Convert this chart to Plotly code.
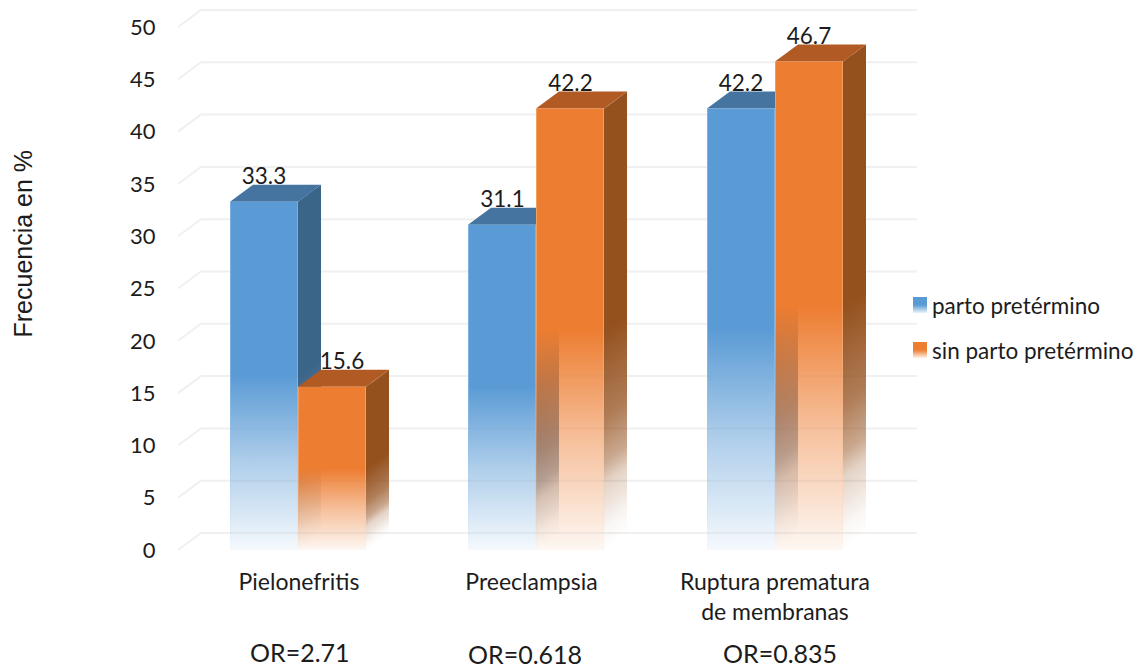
import plotly.graph_objects as go

# Chart data
categories = ["Pielonefritis", "Preeclampsia", "Ruptura prematura<br>de membranas"]
parto_pretermino = [33.3, 31.1, 42.2]
sin_parto_pretermino = [15.6, 42.2, 46.7]
odds_ratios = ["OR=2.71", "OR=0.618", "OR=0.835"]
y_ticks = [0, 5, 10, 15, 20, 25, 30, 35, 40, 45, 50]

# Canvas geometry (pixels)
W, H = 1148, 668
LEFT, RIGHT, TOP, BOTTOM = 178, 1148, 6, 555
WALL_RIGHT = 917
Y0_PX = 550
PX_PER_UNIT = 10.46
GROUP0_PX = 298
GROUP_STEP = 238.5
BAR_W = 68
DEPTH_X, DEPTH_Y = 23, 17
STRIP = 2

FONT = "Lato, Carlito, Calibri, sans-serif"
TITLE_FONT = "Liberation Sans, Arial, sans-serif"
TEXT = "#1c1c1c"
GRID = "#f0f0f0"

def ux(px):
    return (px - GROUP0_PX) / GROUP_STEP

def uy(px):
    return (Y0_PX - px) / PX_PER_UNIT

dy_units = DEPTH_Y / PX_PER_UNIT

series = [
    dict(name="parto pretérmino", values=parto_pretermino, rgb=(91, 155, 213),
         top="#44749f", side=(58, 100, 136), edge=(150, 195, 235), offset=-1),
    dict(name="sin parto pretérmino", values=sin_parto_pretermino, rgb=(237, 125, 49),
         top="#b25a23", side=(148, 80, 29), edge=(245, 185, 140), offset=0),
]

def rgba(rgb, a):
    return f"rgba({rgb[0]},{rgb[1]},{rgb[2]},{a})"

def front_fade(rgb):
    # Solid over the upper half of the face, dissolving towards its base
    return [[0.0, rgba(rgb, 0.03)], [0.25, rgba(rgb, 0.47)],
            [0.5, rgba(rgb, 1)], [1.0, rgba(rgb, 1)]]

def side_fade(rgb):
    # Shaded side faces hold their colour further down than the front
    return [[0.0, rgba(rgb, 0)], [0.05, rgba(rgb, 0.05)], [0.15, rgba(rgb, 0.25)],
            [0.2, rgba(rgb, 0.5)], [0.3, rgba(rgb, 0.75)], [0.5, rgba(rgb, 1)],
            [1.0, rgba(rgb, 1)]]

def polygon(xs_px, ys_val, **kw):
    return go.Scatter(x=[ux(p) for p in xs_px], y=ys_val, mode="lines",
                      line=dict(width=0), fill="toself", hoverinfo="skip",
                      showlegend=False, **kw)

fig = go.Figure()

# Floor and wall gridlines
for t in y_ticks:
    fig.add_trace(go.Scatter(
        x=[ux(LEFT), ux(LEFT + DEPTH_X), ux(WALL_RIGHT)],
        y=[t, t + dy_units, t + dy_units],
        mode="lines", line=dict(color=GRID, width=2),
        hoverinfo="skip", showlegend=False))

# Pale base of each front face, carrying the series values
for s in series:
    fig.add_trace(go.Bar(
        x=list(range(len(categories))), y=s["values"], name=s["name"],
        width=BAR_W / GROUP_STEP, offset=s["offset"] * BAR_W / GROUP_STEP,
        marker=dict(color=rgba(s["rgb"], 0.03), line=dict(width=0)),
        showlegend=False))

# Box faces, back to front: top and side first, then the gradient front
for s in series:
    for i, v in enumerate(s["values"]):
        x0 = int(round(GROUP0_PX + i * GROUP_STEP + s["offset"] * BAR_W))
        x1 = x0 + BAR_W
        fig.add_trace(polygon(
            [x0, x1, x1 + DEPTH_X, x0 + DEPTH_X],
            [v, v, v + dy_units, v + dy_units], fillcolor=s["top"]))

        # Side face: narrow pixel-aligned strips so the fade follows the sloping base
        for k in range(0, DEPTH_X, STRIP):
            k2 = min(k + STRIP, DEPTH_X)
            lift_a, lift_b = k / DEPTH_X * dy_units, k2 / DEPTH_X * dy_units
            fig.add_trace(polygon(
                [x1 + k, x1 + k2, x1 + k2, x1 + k],
                [lift_a, lift_b, v + lift_b, v + lift_a],
                fillgradient=dict(type="vertical", colorscale=side_fade(s["side"]))))

        fig.add_trace(polygon(
            [x0, x1, x1, x0], [0, 0, v, v],
            fillgradient=dict(type="vertical", colorscale=front_fade(s["rgb"]))))

        # Thin pale edges down both sides of the front
        for ex in (x0, x1 - 1):
            fig.add_trace(polygon(
                [ex, ex + 1, ex + 1, ex], [0, 0, v, v],
                fillgradient=dict(type="vertical", colorscale=[
                    [0, rgba(s["edge"], 0)], [0.5, rgba(s["edge"], 0.55)],
                    [1, rgba(s["edge"], 0.55)]])))

# Value labels sit just above the back edge of each box top
label_shift_px = {(1, 0): 10}
LABEL_DROP_PX = 5
for si, s in enumerate(series):
    xs, ys = [], []
    for i, v in enumerate(s["values"]):
        centre = GROUP0_PX + i * GROUP_STEP + (s["offset"] + 0.5) * BAR_W
        xs.append(ux(centre + label_shift_px.get((si, i), 0)))
        ys.append(v + dy_units - LABEL_DROP_PX / PX_PER_UNIT)
    fig.add_trace(go.Scatter(
        x=xs, y=ys, mode="text", text=[f"{v:.1f}" for v in s["values"]],
        textposition="top center", textfont=dict(family=FONT, size=22.5, color=TEXT),
        hoverinfo="skip", showlegend=False, cliponaxis=False))

# Legend: gradient swatches and text placed by hand for its tight spacing
legend_rows = [305, 350]
for s, row in zip(series, legend_rows):
    fig.add_trace(go.Scatter(
        x=[ux(p) for p in (913, 927, 927, 913)],
        y=[uy(row + 8), uy(row + 8), uy(row - 8), uy(row - 8)],
        mode="lines", line=dict(width=0), fill="toself", hoverinfo="skip",
        showlegend=False,
        fillgradient=dict(type="vertical", colorscale=[
            [0, rgba(s["rgb"], 0.1)], [0.5, rgba(s["rgb"], 1)], [1, rgba(s["rgb"], 1)]])))

def px_x(p):
    return (p - LEFT) / (RIGHT - LEFT)

def px_y(p):
    return (BOTTOM - p) / (BOTTOM - TOP)

annotations = [
    dict(x=px_x(930), y=px_y(row), text=s["name"], xanchor="left", yanchor="middle",
         xref="paper", yref="paper", showarrow=False,
         font=dict(family=FONT, size=22.5, color=TEXT))
    for s, row in zip(series, legend_rows)
]
annotations.append(dict(
    x=px_x(22), y=px_y(243.5), text="Frecuencia en %", textangle=-90,
    xanchor="center", yanchor="middle", xref="paper", yref="paper", showarrow=False,
    font=dict(family=TITLE_FONT, size=25, color=TEXT)))
for label, cx, cy in zip(odds_ratios, (300, 525, 780), (652, 654, 653)):
    annotations.append(dict(
        x=px_x(cx), y=px_y(cy), text=label, xanchor="center", yanchor="middle",
        xref="paper", yref="paper", showarrow=False,
        font=dict(family=FONT, size=25, color=TEXT)))

fig.update_layout(
    width=W, height=H, autosize=False,
    margin=dict(l=LEFT, r=W - RIGHT, t=TOP, b=H - BOTTOM, pad=0),
    paper_bgcolor="white", plot_bgcolor="white", barmode="overlay",
    showlegend=False, annotations=annotations,
    xaxis=dict(range=[ux(LEFT), ux(RIGHT)], tickvals=[0.004, 0.979, 2],
               ticktext=categories, showgrid=False, zeroline=False, showline=False,
               ticks="outside", ticklen=6, tickcolor="rgba(0,0,0,0)", automargin=False,
               tickfont=dict(family=FONT, size=23, color=TEXT)),
    yaxis=dict(range=[uy(BOTTOM), uy(TOP)], tickvals=y_ticks, showgrid=False,
               zeroline=False, showline=False, ticks="outside", ticklen=17,
               tickcolor="rgba(0,0,0,0)", automargin=False,
               tickfont=dict(family=FONT, size=22, color=TEXT)),
)

fig.write_html("out.html")
